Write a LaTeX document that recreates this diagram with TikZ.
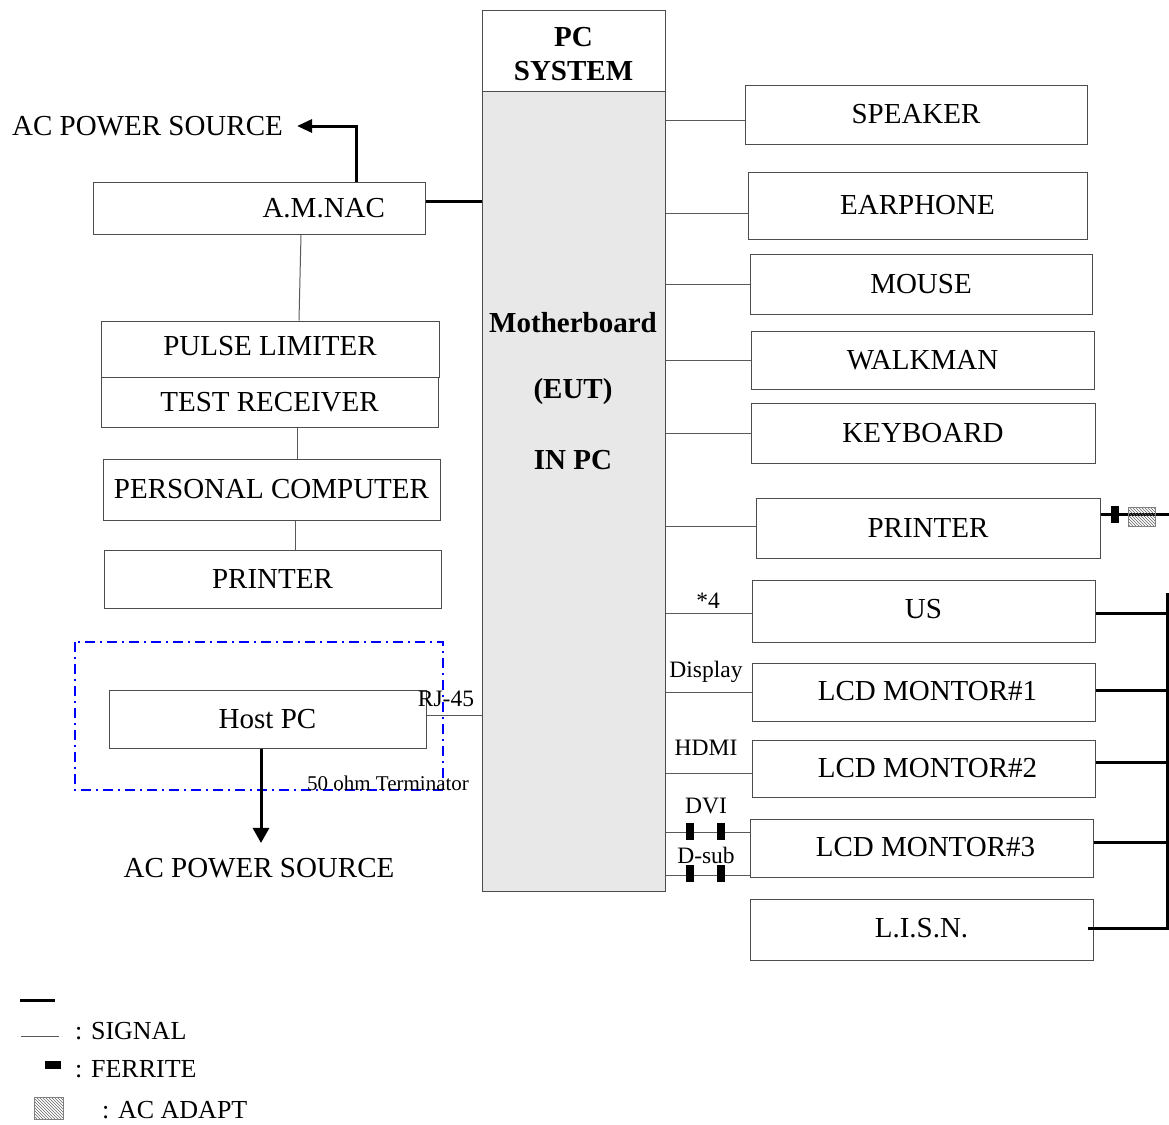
\documentclass[tikz,border=0pt]{standalone}
\usepackage{fontspec}
\setmainfont{Liberation Serif}
\usetikzlibrary{arrows.meta,patterns}
\begin{document}
\begin{tikzpicture}[x=1pt,y=-1pt,
  box/.style={draw=black!70, line width=1pt, fill=white, inner sep=0pt, font=\fontsize{29}{33}\selectfont},
  sig/.style={draw=black!65, line width=1pt},
  pwr/.style={draw=black, line width=3pt},
  lab/.style={inner sep=0pt, font=\fontsize{23.5}{26}\selectfont},
  big/.style={inner sep=0pt, font=\fontsize{29}{33}\selectfont},
  leg/.style={inner sep=0pt, anchor=west, font=\fontsize{26}{30}\selectfont},
  ferrite/.style={fill=black, inner sep=0pt, minimum width=8pt, minimum height=17pt},
  adapter/.style={draw=gray, line width=0.8pt, pattern=north west lines, pattern color=gray!80!black, inner sep=0pt, minimum width=27pt, minimum height=19pt},
  bold/.style={inner sep=0pt, font=\fontsize{29}{34}\selectfont\bfseries}]
\useasboundingbox (0,0) rectangle (1169,1124);

% PC system
\node[box, minimum width=183pt, minimum height=80pt] (pcsys) at (573.5,51) {};
\node[align=center, inner sep=0pt, font=\fontsize{29}{34}\selectfont\bfseries] (pcsyst) at (573.5,54) {PC\\SYSTEM};
\node[box, fill=black!9, minimum width=183pt, minimum height=800pt] (mb) at (573.5,491) {};
\node[bold] (mbt1) at (573,323) {Motherboard};
\node[bold] (mbt2) at (573,392) {(EUT)};
\node[bold] (mbt3) at (573,460) {IN PC};

% right side boxes
\node[box, minimum width=342pt, minimum height=59pt] (spk) at (916,114.5) {SPEAKER};
\node[box, minimum width=339pt, minimum height=67pt] (ear) at (917.5,205.5) {EARPHONE};
\node[box, minimum width=342pt, minimum height=60pt] (mouse) at (921,284) {\raisebox{-2pt}{MOUSE}};
\node[box, minimum width=343pt, minimum height=58pt] (walk) at (922.5,360) {\raisebox{-5pt}{WALKMAN}};
\node[box, minimum width=344pt, minimum height=60pt] (kbd) at (923,433) {KEYBOARD};
\node[box, minimum width=344pt, minimum height=60pt] (prtR) at (928,528) {PRINTER};
\node[box, minimum width=343pt, minimum height=62pt] (us) at (923.5,611) {\raisebox{5pt}{US}};
\node[box, minimum width=343pt, minimum height=58pt] (lcd1) at (923.5,692) {\hspace{8pt}\raisebox{2pt}{LCD MONTOR\#1}};
\node[box, minimum width=343pt, minimum height=57pt] (lcd2) at (923.5,768.5) {\hspace{8pt}\raisebox{2pt}{LCD MONTOR\#2}};
\node[box, minimum width=343pt, minimum height=58pt] (lcd3) at (921.5,848) {\hspace{8pt}\raisebox{2pt}{LCD MONTOR\#3}};
\node[box, minimum width=343pt, minimum height=61pt] (lisn) at (921.5,929.5) {\raisebox{4pt}{L.I.S.N.}};

% left boxes
\node[box, minimum width=332pt, minimum height=52pt, text width=252pt, align=right, inner xsep=40pt] (amnac) at (259,208) {A.M.NAC};
\node[box, minimum width=338pt, minimum height=56pt] (pulse) at (270,349) {\raisebox{6pt}{PULSE LIMITER}};
\node[box, minimum width=337pt, minimum height=50pt] (testr) at (269.5,402) {\raisebox{-5pt}{TEST RECEIVER}};
\node[box, minimum width=337pt, minimum height=61pt] (pc) at (271.5,489.5) {\raisebox{-4pt}{PERSONAL COMPUTER}};
\node[box, minimum width=337pt, minimum height=58pt] (prtL) at (272.5,579) {PRINTER};
\node[box, minimum width=317pt, minimum height=58pt] (host) at (267.5,719) {Host PC};
\draw[blue, line width=1.8pt, dash pattern=on 10pt off 5pt on 2pt off 5pt] (75,642) rectangle (443,790);

\node[big] (acTop) at (147.5,126) {AC POWER SOURCE};
\node[big] (acBot) at (259,868) {AC POWER SOURCE};
\node[lab] (rj) at (446,699) {RJ-45};
\node[inner sep=0pt, font=\fontsize{21}{24}\selectfont] (term) at (388,783) {50 ohm Terminator};
\node[lab] (l4) at (708,601) {*4};
\node[lab] (ldisp) at (706,672) {Display};
\node[lab] (lhdmi) at (706,748) {HDMI};
\node[lab] (ldvi) at (706,806) {DVI};
\node[lab] (ldsub) at (706,855) {D-sub};

% signal lines to right
\draw[sig] ([yshift=-5.5pt]spk.west) -- ([yshift=-5.5pt]spk.west -| mb.east);
\draw[sig] ([yshift=-7.5pt]ear.west) -- ([yshift=-7.5pt]ear.west -| mb.east);
\draw[sig] (mouse.west) -- (mouse.west -| mb.east);
\draw[sig] (walk.west) -- (walk.west -| mb.east);
\draw[sig] (kbd.west) -- (kbd.west -| mb.east);
\draw[sig] ([yshift=2pt]prtR.west) -- ([yshift=2pt]prtR.west -| mb.east);
\draw[sig] ([yshift=-2pt]us.west) -- ([yshift=-2pt]us.west -| mb.east);
\draw[sig] (lcd1.west) -- (lcd1.west -| mb.east);
\draw[sig] ([yshift=-4.5pt]lcd2.west) -- ([yshift=-4.5pt]lcd2.west -| mb.east);
\draw[sig] ([yshift=16pt]lcd3.west) -- ([yshift=16pt]lcd3.west -| mb.east);
\draw[sig] ([yshift=-27pt]lcd3.west) -- ([yshift=-27pt]lcd3.west -| mb.east);
\node[ferrite] (f1) at (690,831) {};
\node[ferrite] (f2) at (721,831) {};
\node[ferrite] (f3) at (690,873) {};
\node[ferrite] (f4) at (721,873) {};

% right power trunk
\coordinate (trTop) at (1167,593);
\draw[pwr, line join=miter] ([xshift=-6pt,yshift=1.5pt]lisn.east) -| (trTop);
\draw[pwr] ([yshift=-2pt]us.east) -- ([yshift=-2pt]us.east -| trTop);
\draw[pwr] ([yshift=2pt]lcd1.east) -- ([yshift=2pt]lcd1.east -| trTop);
\draw[pwr] ([yshift=6.5pt]lcd2.east) -- ([yshift=6.5pt]lcd2.east -| trTop);
\draw[pwr] ([yshift=6pt]lcd3.east) -- ([yshift=6pt]lcd3.east -| trTop);
\coordinate (prEnd) at (1169,514);
\draw[pwr] ([yshift=14pt]prtR.east) -- (prEnd);
\node[ferrite] (fp) at (1115,514) {};
\node[adapter] (ap) at (1142,517) {};

% left connections
\draw[pwr] ([yshift=7pt]amnac.east) -- ([yshift=7pt]amnac.east -| mb.west);
\draw[pwr, -{Triangle[length=15pt,width=13pt]}] ([xshift=97pt]amnac.north) |- ([xshift=14pt]acTop.east);
\draw[sig] ([xshift=42pt]amnac.south) -- ([xshift=29pt]pulse.north);
\draw[sig] ([xshift=27.5pt]testr.south) -- ([xshift=25.5pt]pc.north);
\draw[sig] ([xshift=23.5pt]pc.south) -- ([xshift=22.5pt]prtL.north);
\draw[sig] ([yshift=4pt]host.east) -- ([yshift=4pt]host.east -| mb.west);
\coordinate (hp) at ([xshift=-6.5pt]host.south);
\draw[pwr, -{Triangle[length=15pt,width=16pt]}] (hp) -- ([yshift=15pt]hp |- acBot.north);

% legend
\coordinate (lg1a) at (20,1000); \coordinate (lg1b) at (55,1000);
\draw[line width=3pt] (lg1a) -- (lg1b);
\coordinate (lg2a) at (21,1036); \coordinate (lg2b) at (59,1036);
\draw[sig] (lg2a) -- (lg2b);
\node[leg] (lgs) at (75,1031) {: SIGNAL};
\node[fill=black, inner sep=0pt, minimum width=16pt, minimum height=8pt] (lgf) at (53,1065) {};
\node[leg] (lgft) at (75,1069) {: FERRITE};
\node[adapter, minimum width=29pt, minimum height=22pt] (lga) at (48.5,1108) {};
\node[leg] (lgat) at (102,1110) {: AC ADAPT};
\end{tikzpicture}
\end{document}
